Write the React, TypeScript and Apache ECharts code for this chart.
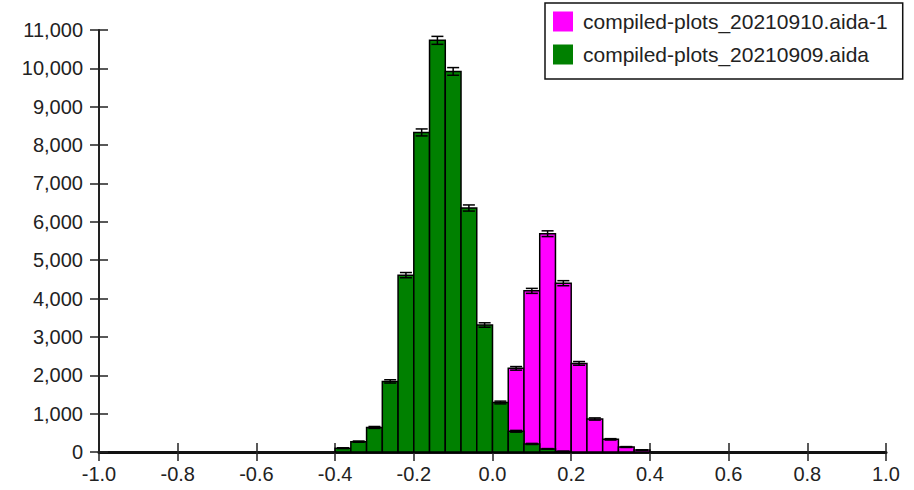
import React, { useEffect, useRef } from "react";
import * as echarts from "echarts";

// Histogram bins (lower edges), width 0.04
const BIN_LOW = [-0.4, -0.36, -0.32, -0.28, -0.24, -0.2, -0.16, -0.12, -0.08, -0.04, 0.0, 0.04, 0.08, 0.12, 0.16, 0.2, 0.24, 0.28, 0.32, 0.36];
const BIN_WIDTH = 0.04;

const SERIES_MAGENTA = "compiled-plots_20210910.aida-1";
const SERIES_GREEN = "compiled-plots_20210909.aida";

const MAGENTA_COUNTS = [0, 0, 0, 0, 0, 0, 5, 20, 80, 270, 800, 2180, 4200, 5690, 4400, 2310, 860, 330, 130, 50];
const MAGENTA_ERR = [0, 0, 0, 0, 0, 0, 2, 4, 9, 16, 28, 47, 65, 75, 66, 48, 29, 18, 11, 7];

const GREEN_COUNTS = [100, 270, 640, 1840, 4610, 8330, 10730, 9920, 6360, 3310, 1290, 540, 210, 80, 15, 0, 0, 0, 0, 0];
const GREEN_ERR = [10, 16, 25, 43, 68, 91, 104, 100, 80, 58, 36, 23, 14, 9, 4, 0, 0, 0, 0, 0];

const X_MIN = -1;
const X_MAX = 1;
const X_STEP = 0.2;
const Y_MIN = 0;
const Y_MAX = 11000;
const Y_STEP = 1000;

const MAGENTA = "#ff00ff";
const GREEN = "#008000";
const FONT = "'Liberation Sans', Arial, sans-serif";

function buildData(counts: number[], errs: number[]) {
  return BIN_LOW.map((lo, i) => [lo, +(lo + BIN_WIDTH).toFixed(2), counts[i], errs[i]]);
}

function makeRender(color: string) {
  return (params: any, api: any) => {
    const x0 = api.value(0);
    const x1 = api.value(1);
    const v = api.value(2);
    const e = api.value(3);
    const p0 = api.coord([x0, v]);
    const p1 = api.coord([x1, 0]);
    const children: any[] = [];
    if (v <= 0) return { type: "group", children };
    children.push({
      type: "rect",
      shape: { x: p0[0], y: p0[1], width: p1[0] - p0[0], height: p1[1] - p0[1] },
      style: { fill: color, stroke: "#000", lineWidth: 1.5 },
    });
    const cx = (p0[0] + p1[0]) / 2;
    const top = api.coord([x0, v + e])[1];
    const bot = api.coord([x0, Math.max(0, v - e)])[1];
    const hw = 6;
    const ls = { stroke: "#000", lineWidth: 1.5 };
    children.push({ type: "line", shape: { x1: cx, y1: top, x2: cx, y2: bot }, style: ls });
    children.push({ type: "line", shape: { x1: cx - hw, y1: top, x2: cx + hw, y2: top }, style: ls });
    children.push({ type: "line", shape: { x1: cx - hw, y1: bot, x2: cx + hw, y2: bot }, style: ls });
    return { type: "group", children };
  };
}

export default function App() {
  const ref = useRef<HTMLDivElement>(null);
  useEffect(() => {
    if (!ref.current) return;
    const chart = echarts.init(ref.current, undefined, { renderer: "svg" });
    const axisColor = "#222";
    const xBase = {
      type: "value",
      min: X_MIN,
      max: X_MAX,
      interval: X_STEP,
      position: "bottom",
      splitLine: { show: false },
    };
    const yBase = {
      type: "value",
      min: Y_MIN,
      max: Y_MAX,
      interval: Y_STEP,
      position: "left",
      splitLine: { show: false },
    };
    chart.setOption({
      animation: false,
      backgroundColor: "#fff",
      textStyle: { fontFamily: FONT },
      grid: { left: 99, right: 28, top: 30, bottom: 38 },
      legend: {
        orient: "vertical",
        left: 545,
        top: 3,
        padding: [8, 15, 14, 8],
        itemGap: 12,
        itemWidth: 20,
        itemHeight: 20,
        icon: "rect",
        backgroundColor: "#fff",
        borderColor: "#111",
        borderWidth: 1.5,
        borderRadius: 0,
        itemStyle: { borderWidth: 0 },
        textStyle: { fontSize: 21, color: "#222", fontFamily: FONT, padding: [0, 0, 0, 5] },
        data: [SERIES_MAGENTA, SERIES_GREEN],
      },
      xAxis: [
        {
          ...xBase,
          axisLine: { show: true, onZero: false, lineStyle: { color: "#111", width: 3 } },
          axisTick: { show: true, inside: false, length: 9, lineStyle: { color: axisColor, width: 1.5 } },
          axisLabel: {
            show: true,
            margin: 12,
            fontSize: 20,
            color: "#222",
            fontFamily: FONT,
            formatter: (v: number) => v.toFixed(1),
          },
        },
        {
          ...xBase,
          axisLine: { show: false, onZero: false },
          axisTick: { show: true, inside: true, length: 9, lineStyle: { color: axisColor, width: 1.5 } },
          axisLabel: { show: false },
        },
      ],
      yAxis: [
        {
          ...yBase,
          axisLine: { show: true, onZero: false, lineStyle: { color: axisColor, width: 2 } },
          axisTick: { show: true, inside: false, length: 9, lineStyle: { color: axisColor, width: 1.5 } },
          axisLabel: {
            show: true,
            margin: 16,
            fontSize: 20,
            color: "#222",
            fontFamily: FONT,
            formatter: (v: number) => v.toLocaleString("en-US"),
          },
        },
        {
          ...yBase,
          axisLine: { show: false, onZero: false },
          axisTick: { show: true, inside: true, length: 9, lineStyle: { color: axisColor, width: 1.5 } },
          axisLabel: { show: false },
        },
      ],
      series: [
        {
          type: "custom",
          name: SERIES_MAGENTA,
          xAxisIndex: 0,
          yAxisIndex: 0,
          itemStyle: { color: MAGENTA },
          encode: { x: [0, 1], y: [2] },
          renderItem: makeRender(MAGENTA),
          data: buildData(MAGENTA_COUNTS, MAGENTA_ERR),
          z: 2,
        },
        {
          type: "custom",
          name: SERIES_GREEN,
          xAxisIndex: 0,
          yAxisIndex: 0,
          itemStyle: { color: GREEN },
          encode: { x: [0, 1], y: [2] },
          renderItem: makeRender(GREEN),
          data: buildData(GREEN_COUNTS, GREEN_ERR),
          z: 3,
        },
      ],
    });
    return () => chart.dispose();
  }, []);
  return <div ref={ref} style={{ position: "fixed", left: 0, top: 0, width: 914, height: 490 }} />;
}
